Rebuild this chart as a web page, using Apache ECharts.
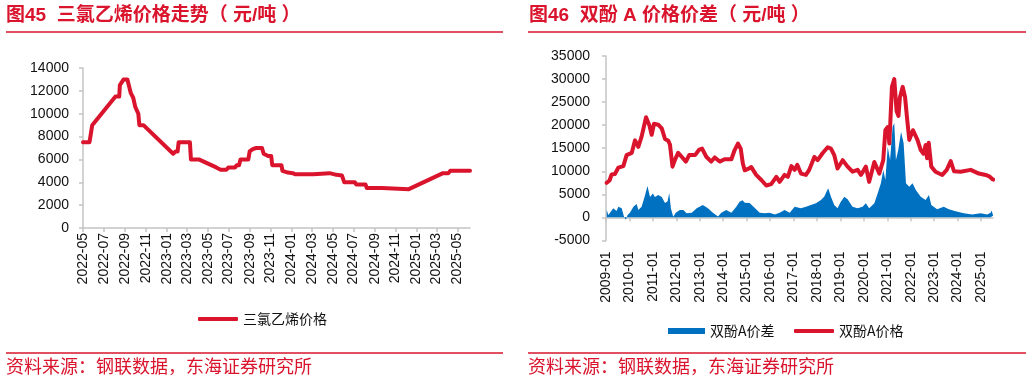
<!DOCTYPE html>
<html><head><meta charset="utf-8">
<script src="https://cdn.jsdelivr.net/npm/echarts@6/dist/echarts.min.js"></script>
<style>html,body{margin:0;padding:0;background:#fff}#c{width:1032px;height:382px}</style>
</head><body><div id="c"></div><script>
// ---- Left chart: 三氯乙烯价格 (元/吨)
const leftDates = ['2022-05-01','2022-05-20','2022-05-28','2022-08-04','2022-08-15','2022-08-17','2022-08-28','2022-09-08','2022-09-18','2022-09-25','2022-10-01','2022-10-10','2022-10-13','2022-10-25','2023-01-20','2023-01-27','2023-02-02','2023-02-05','2023-03-10','2023-03-13','2023-04-05','2023-05-26','2023-06-08','2023-06-25','2023-07-01','2023-07-20','2023-07-25','2023-08-01','2023-08-05','2023-08-28','2023-09-01','2023-09-10','2023-09-20','2023-10-07','2023-10-12','2023-10-25','2023-11-03','2023-11-06','2023-12-03','2023-12-06','2023-12-22','2024-01-05','2024-01-12','2024-03-05','2024-03-10','2024-04-22','2024-05-12','2024-05-28','2024-06-04','2024-07-05','2024-07-09','2024-08-05','2024-08-09','2024-09-22','2024-09-27','2024-12-10','2025-03-20','2025-04-05','2025-04-10','2025-06-07'];
const leftValues = [7500,7500,9000,11500,11500,12500,13000,13000,11800,11400,10600,10000,9000,9000,6500,6700,6700,7500,7500,6000,6000,5300,5100,5100,5300,5300,5500,5500,6000,6000,6700,6900,7000,7000,6500,6300,6300,5500,5500,5000,4850,4800,4700,4700,4800,4800,4650,4600,4000,4000,3800,3800,3500,3500,3400,3400,4800,4800,5000,5000];
const leftTickLabels = ['2022-05','2022-07','2022-09','2022-11','2023-01','2023-03','2023-05','2023-07','2023-09','2023-11','2024-01','2024-03','2024-05','2024-07','2024-09','2024-11','2025-01','2025-03','2025-05'];

// ---- Right chart: 双酚A (dates as decimal years)
const priceYears = [2009.03,2009.15,2009.24,2009.38,2009.53,2009.74,2009.88,2010.10,2010.24,2010.38,2010.52,2010.71,2010.85,2010.95,2011.05,2011.23,2011.38,2011.52,2011.66,2011.73,2011.84,2011.94,2012.08,2012.23,2012.41,2012.55,2012.80,2012.98,2013.10,2013.28,2013.49,2013.64,2013.85,2014.06,2014.35,2014.49,2014.63,2014.75,2014.84,2014.92,2015.06,2015.20,2015.41,2015.63,2015.84,2016.05,2016.27,2016.41,2016.62,2016.76,2016.91,2017.05,2017.16,2017.32,2017.53,2017.67,2017.89,2018.03,2018.24,2018.46,2018.60,2018.74,2018.88,2019.10,2019.31,2019.52,2019.74,2019.88,2020.09,2020.23,2020.45,2020.66,2020.83,2020.92,2021.02,2021.09,2021.20,2021.30,2021.40,2021.48,2021.54,2021.66,2021.76,2021.84,2021.94,2022.10,2022.29,2022.43,2022.55,2022.64,2022.70,2022.77,2022.88,2023.06,2023.35,2023.54,2023.71,2023.85,2024.13,2024.56,2024.91,2025.20,2025.35,2025.48,2025.52];
const priceValues = [7500,8000,9300,9400,10800,11100,13500,14000,16700,15300,17500,21700,20000,17900,20300,20100,19300,17000,16600,15800,11000,12400,14000,13150,12100,13500,13500,14700,14900,13150,12100,13000,12100,12600,12600,14600,16000,14900,11700,10200,10500,10900,9200,8100,6900,7200,8800,7700,9200,8800,11100,10300,11400,9500,9200,10300,13100,12400,13900,15200,14900,13500,10600,12400,11000,9900,10300,9200,11000,7700,12000,9500,12400,18900,19600,16000,28300,30000,23000,22000,26000,28300,26100,21800,16800,18900,16800,14600,13800,15700,12800,16200,11000,9900,9200,10300,12200,10000,9900,10300,9500,9200,8900,8300,8200];
const spreadYears = [2009.03,2009.10,2009.17,2009.31,2009.45,2009.53,2009.67,2009.77,2009.85,2009.92,2010.02,2010.17,2010.31,2010.38,2010.52,2010.67,2010.77,2010.88,2011.00,2011.09,2011.23,2011.38,2011.52,2011.63,2011.70,2011.77,2011.87,2011.98,2012.15,2012.30,2012.44,2012.66,2012.87,2012.95,2013.13,2013.35,2013.56,2013.78,2013.83,2013.92,2014.13,2014.35,2014.56,2014.70,2014.83,2014.92,2015.13,2015.34,2015.56,2015.77,2015.98,2016.20,2016.41,2016.62,2016.84,2017.05,2017.32,2017.53,2017.74,2017.96,2018.17,2018.31,2018.48,2018.60,2018.74,2018.88,2019.02,2019.17,2019.31,2019.52,2019.74,2019.95,2020.09,2020.23,2020.45,2020.59,2020.73,2020.83,2020.92,2021.02,2021.12,2021.23,2021.30,2021.37,2021.47,2021.59,2021.70,2021.80,2021.94,2022.08,2022.22,2022.43,2022.64,2022.78,2022.88,2023.13,2023.41,2023.63,2023.92,2024.27,2024.63,2024.98,2025.27,2025.41,2025.45,2025.52];
const spreadValues = [1580,500,1000,1950,1400,2300,1950,130,-500,500,1000,2300,2880,1580,2300,4840,6800,4400,5200,4400,4840,4400,3100,3500,5300,1950,130,1000,1580,1580,870,1000,1950,2300,2700,1950,1000,200,0,1000,1580,1000,2300,3400,3700,3150,3100,2100,1000,870,1000,600,1000,1580,1000,2300,1950,2300,2670,3040,3750,4470,6290,4470,2670,1950,3380,4470,3900,2300,1950,2300,3040,1950,3040,5200,7370,10260,8100,15300,12430,19650,20400,12430,14600,18570,16050,7370,6650,7370,5920,4470,3750,4840,2670,1740,2300,1740,1350,870,600,870,600,1000,1500,400];
const rightTickLabels = ['2009-01','2010-01','2011-01','2012-01','2013-01','2014-01','2015-01','2016-01','2017-01','2018-01','2019-01','2020-01','2021-01','2022-01','2023-01','2024-01','2025-01'];

const RED = '#D9142C';
const BLUE = '#0070C0';
const AX = '#C4C4C4';
const TXT = '#111111';
const FONT = '"Liberation Sans", Arial, "Noto Sans CJK SC", sans-serif';
const CJK = '"Noto Sans CJK SC", "Liberation Sans", sans-serif';

function ymd(s){const p=s.split('-').map(Number);return new Date(p[0],p[1]-1,p[2]||1).getTime();}
function dy(d){const y=Math.floor(d);const a=new Date(y,0,1).getTime(),b=new Date(y+1,0,1).getTime();return a+(d-y)*(b-a);}
function fmt(v){const d=new Date(v);return d.getFullYear()+'-'+String(d.getMonth()+1).padStart(2,'0');}
function num(v){return String(v);}

const leftTicks = leftTickLabels.map(ymd);
const rightTicks = rightTickLabels.map(ymd);
const lMin = ymd('2022-05-01'), lMax = ymd('2025-06-07');
const rMin = ymd('2009-01-01'), rMax = ymd('2025-07-07');

const chart = echarts.init(document.getElementById('c'), null, {renderer:'canvas'});
const labelStyle = {fontSize:14, color:TXT, fontFamily:FONT};
const titleFont = 'bold 19px "Liberation Sans", "Noto Sans CJK SC", sans-serif';
chart.setOption({
  animation:false,
  backgroundColor:'#fff',
  grid:[{left:83,top:68,width:387,height:160},{left:606,top:56,width:387,height:184.4}],
  xAxis:[
    {gridIndex:0,type:'value',min:lMin,max:lMax,scale:true,
     axisLine:{lineStyle:{color:AX,width:1.5}},
     axisTick:{show:true,customValues:leftTicks,length:4,lineStyle:{color:AX,width:1.5}},
     axisLabel:Object.assign({customValues:leftTicks,rotate:90,formatter:fmt,margin:5,hideOverlap:false},labelStyle),
     splitLine:{show:false}},
    {gridIndex:1,type:'value',min:rMin,max:rMax,scale:true,
     axisLine:{onZero:true,lineStyle:{color:AX,width:1.5}},
     axisTick:{show:true,customValues:rightTicks,length:4,lineStyle:{color:AX,width:1.5}},
     axisLabel:{show:false},splitLine:{show:false}},
    {gridIndex:1,type:'value',position:'bottom',min:rMin,max:rMax,scale:true,
     axisLine:{show:false,onZero:false},axisTick:{show:false},
     axisLabel:Object.assign({customValues:rightTicks,rotate:90,formatter:fmt,margin:11,hideOverlap:false},labelStyle),
     splitLine:{show:false}}
  ],
  yAxis:[
    {gridIndex:0,type:'value',min:0,max:14000,interval:2000,
     axisLine:{show:true,lineStyle:{color:AX,width:1.5}},
     axisTick:{show:true,length:4,lineStyle:{color:AX,width:1.5}},
     axisLabel:Object.assign({margin:14,formatter:num},labelStyle),splitLine:{show:false}},
    {gridIndex:1,type:'value',min:-5000,max:35000,interval:5000,
     axisLine:{show:true,lineStyle:{color:AX,width:1.5}},
     axisTick:{show:true,length:4,lineStyle:{color:AX,width:1.5}},
     axisLabel:Object.assign({margin:16,formatter:num},labelStyle),splitLine:{show:false}}
  ],
  legend:[
    {data:[{name:'三氯乙烯价格',icon:'roundRect'}],left:193,top:307,itemWidth:40,itemHeight:4,itemGap:10,selectedMode:false,
     textStyle:{fontSize:14,color:TXT,fontFamily:CJK}},
    {data:[{name:'双酚A价差',icon:'rect'}],left:663,top:319,itemWidth:37,itemHeight:6,selectedMode:false,
     textStyle:{fontSize:14,color:TXT,fontFamily:CJK}},
    {data:[{name:'双酚A价格',icon:'roundRect'}],left:789,top:319,itemWidth:40,itemHeight:4,selectedMode:false,
     textStyle:{fontSize:14,color:TXT,fontFamily:CJK}}
  ],
  series:[
    {name:'三氯乙烯价格',type:'line',xAxisIndex:0,yAxisIndex:0,showSymbol:false,symbol:'none',
     data:leftDates.map((d,i)=>[ymd(d),leftValues[i]]),
     lineStyle:{color:RED,width:4,join:'round',cap:'round'},itemStyle:{color:RED}},
    {name:'双酚A价差',type:'line',xAxisIndex:1,yAxisIndex:1,showSymbol:false,symbol:'none',
     data:spreadYears.map((d,i)=>[dy(d),spreadValues[i]]),
     lineStyle:{width:0},areaStyle:{color:BLUE,opacity:1},itemStyle:{color:BLUE}},
    {name:'双酚A价格',type:'line',xAxisIndex:1,yAxisIndex:1,showSymbol:false,symbol:'none',
     data:priceYears.map((d,i)=>[dy(d),priceValues[i]]),
     lineStyle:{color:RED,width:4,join:'round',cap:'round'},itemStyle:{color:RED}}
  ],
  graphic:[
    {type:'text',left:6,top:6,style:{text:'图45  三氯乙烯价格走势（ 元/吨 ）',font:titleFont,fill:RED}},
    {type:'text',left:529,top:6,style:{text:'图46  双酚 A 价格价差（ 元/吨 ）',font:titleFont,fill:RED}},
    {type:'line',shape:{x1:6,y1:32,x2:503,y2:32},style:{stroke:RED,lineWidth:1.5}},
    {type:'line',shape:{x1:528,y1:32,x2:1026,y2:32},style:{stroke:RED,lineWidth:1.5}},
    {type:'line',shape:{x1:6,y1:353,x2:503,y2:353},style:{stroke:RED,lineWidth:1.5}},
    {type:'line',shape:{x1:528,y1:353,x2:1026,y2:353},style:{stroke:RED,lineWidth:1.5}},
    {type:'text',left:6,top:357,style:{text:'资料来源：钢联数据，东海证券研究所',font:'18px "Noto Sans CJK SC", sans-serif',fill:RED}},
    {type:'text',left:528,top:357,style:{text:'资料来源：钢联数据，东海证券研究所',font:'18px "Noto Sans CJK SC", sans-serif',fill:RED}}
  ]
});
</script></body></html>
